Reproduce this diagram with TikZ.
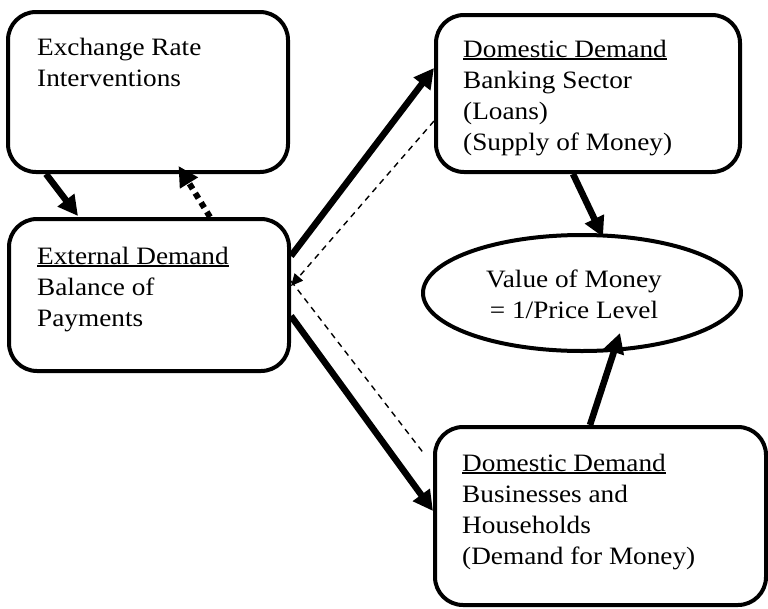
\documentclass[tikz,border=0pt]{standalone}
\usepackage{fontspec}
\setmainfont[FakeStretch=1.09]{Liberation Serif}
\usetikzlibrary{arrows.meta,shapes.geometric}
% underline with a rule of fixed weight
\newcommand\ulword[1]{\setbox0\hbox{#1}\rlap{\rule[-3pt]{\wd0}{1.6pt}}\box0}
\begin{document}
\begin{tikzpicture}[x=1pt,y=-1pt,
  panel/.style={draw,line width=4pt,rounded corners=28pt,inner sep=0pt,rectangle},
  oval/.style={draw,line width=4pt,ellipse,inner sep=0pt},
  % multi-line texts are placed by the baseline of their last line
  txt/.style={anchor=base west,inner sep=0pt,align=left,font=\fontsize{25}{31}\selectfont},
  ctxt/.style={anchor=base,inner sep=0pt,align=center,font=\fontsize{25}{31}\selectfont},
  bigarrow/.style={line width=6.5pt,-{Triangle[length=20pt,width=20pt]}},
  dotarrow/.style={line width=6pt,dash pattern=on 6pt off 5pt,-{Triangle[length=20pt,width=20pt]}},
  dasharrow/.style={line width=1.4pt,dash pattern=on 6pt off 5pt,-{Triangle[length=12pt,width=11pt]}},
  dashline/.style={line width=1.4pt,dash pattern=on 6pt off 5pt}]
\useasboundingbox (0,0) rectangle (768,608);

% boxes
\node[panel,minimum width=280pt,minimum height=160pt] (er)   at (148,92) {};
\node[panel,minimum width=280pt,minimum height=152pt] (ext)  at (149,295) {};
\node[panel,minimum width=304pt,minimum height=157pt] (bank) at (588,93.5) {};
\node[panel,minimum width=331pt,minimum height=178pt] (biz)  at (600.5,516) {};
\node[oval,minimum width=318pt,minimum height=116pt]  (vom)  at (582,293) {};

% texts
\node[txt] (ertxt)   at (37,86)  {Exchange Rate\\Interventions};
\node[txt] (exttxt)  at (37,326) {\ulword{External Demand}\\Balance of\\Payments};
\node[txt] (banktxt) at (463,150) {\ulword{Domestic Demand}\\Banking Sector\\(Loans)\\(Supply of Money)};
\node[txt] (biztxt)  at (462,564) {\ulword{Domestic Demand}\\Businesses and\\Households\\(Demand for Money)};
\node[ctxt] (vomtxt) at (574,318) {Value of Money\\= 1/Price Level};

% connectors
\draw[bigarrow] ([xshift=40pt]er.south west) -- ([xshift=71pt,yshift=1pt]ext.north west);
\draw[dotarrow] ([xshift=203pt]ext.north west) -- ([xshift=172.5pt,yshift=8pt]er.south west);
\draw[bigarrow] ([yshift=-39pt]ext.north east) -- ([yshift=-55pt]bank.north west);
\draw[dasharrow] ([yshift=-108pt]bank.north west) -- ([yshift=-69pt]ext.north east);
\draw[dashline] ([yshift=-64pt]ext.north east) -- ([xshift=-8pt,yshift=-30pt]biz.north west);
\draw[bigarrow] ([yshift=-99pt]ext.north east) -- ([yshift=-86pt]biz.north west);
\draw[bigarrow] ([xshift=139pt]bank.south west) -- ([xshift=21pt,yshift=-4pt]vom.north);
\draw[bigarrow] ([xshift=157pt]biz.north west) -- ([xshift=38pt,yshift=20pt]vom.south);
\end{tikzpicture}
\end{document}
